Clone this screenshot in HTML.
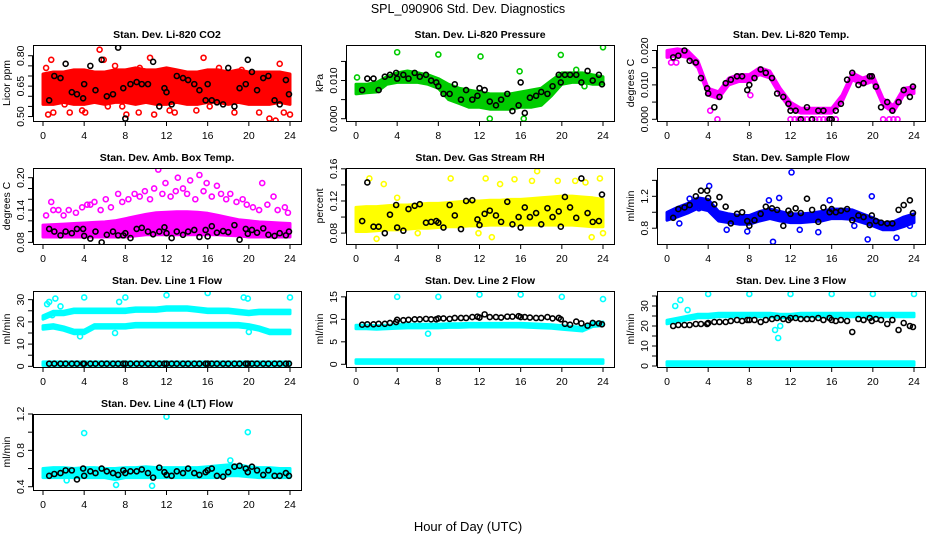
<!DOCTYPE html>
<html><head><meta charset="utf-8">
<style>
html,body{margin:0;padding:0;background:#fff;}
svg{display:block;font-family:"Liberation Sans",Arial,sans-serif;}
</style></head>
<body>
<svg id="chart" width="936" height="540" viewBox="0 0 936 540">
<text x="468" y="13" text-anchor="middle" font-size="12.5">SPL_090906  Std. Dev. Diagnostics</text>
<text x="468" y="531" text-anchor="middle" font-size="13">Hour of Day (UTC)</text>
</svg>
<script>
// ---- shared data ----
const bandHours = [0,1,2,3,4,5,6,7,8,9,10,11,12,13,14,15,16,17,18,19,20,21,22,23,24];
const blackX = [0.6,1.1,1.7,2.2,2.8,3.3,3.9,4.0,4.6,5.1,5.7,6.2,6.8,7.3,7.8,8.0,8.5,9.1,9.6,10.2,10.7,11.3,11.8,12.0,12.5,13.0,13.6,14.1,14.7,15.2,15.8,16.0,16.4,16.9,17.5,18.0,18.6,19.1,19.7,19.9,20.3,20.8,21.4,21.9,22.5,23.0,23.6,23.9];
const xTicks = [0,4,8,12,16,20,24];

// P1 CO2
const co2Lo = [0.56,0.56,0.57,0.56,0.56,0.57,0.56,0.57,0.57,0.56,0.57,0.56,0.56,0.57,0.56,0.56,0.57,0.57,0.56,0.57,0.56,0.56,0.56,0.57,0.56];
const co2Hi = [0.71,0.72,0.72,0.73,0.73,0.72,0.72,0.73,0.73,0.74,0.73,0.73,0.74,0.73,0.72,0.72,0.73,0.73,0.72,0.73,0.72,0.72,0.72,0.72,0.71];
const co2OutX = [0.3,0.5,0.8,1.0,2.1,2.6,3.8,4.1,5.5,5.9,6.3,7.0,7.7,8.1,9.3,9.4,10.4,10.8,12.3,12.8,14.9,15.6,16.2,17.1,18.6,19.3,21.0,22.0,22.6,23.0,23.4,24.0];
const co2OutY = [0.74,0.51,0.78,0.52,0.56,0.52,0.53,0.52,0.83,0.78,0.55,0.75,0.55,0.51,0.52,0.74,0.79,0.51,0.53,0.52,0.53,0.79,0.55,0.74,0.52,0.73,0.52,0.49,0.48,0.76,0.52,0.51];
const co2Black = [0.58,0.70,0.69,0.76,0.62,0.61,0.59,0.66,0.75,0.63,0.78,0.60,0.61,0.84,0.64,0.49,0.66,0.67,0.66,0.66,0.77,0.55,0.64,0.62,0.56,0.70,0.69,0.68,0.66,0.63,0.58,0.66,0.58,0.57,0.56,0.74,0.55,0.64,0.66,0.78,0.72,0.63,0.69,0.70,0.58,0.56,0.68,0.61];

// P2 Pressure
const presLo = [0.0065,0.0068,0.007,0.009,0.0095,0.0095,0.0095,0.009,0.008,0.005,0.004,0.003,0.003,0.0025,0.0025,0.0025,0.003,0.003,0.0035,0.006,0.009,0.0095,0.0095,0.009,0.009];
const presHi = [0.009,0.009,0.0095,0.011,0.012,0.0125,0.012,0.0115,0.0105,0.009,0.008,0.0075,0.007,0.0065,0.0065,0.0065,0.007,0.0075,0.008,0.010,0.012,0.012,0.012,0.0115,0.011];
const presOutX = [0.1,4.0,8.0,12.1,13.0,15.9,16.3,19.9,21.4,22.2,24.0];
const presOutY = [0.0108,0.0174,0.0168,0.0163,0.0000,0.0124,0.0000,0.0167,0.0128,0.0085,0.0187];
const presBlack = [0.0075,0.0105,0.0105,0.0075,0.011,0.0115,0.012,0.0105,0.0115,0.0105,0.012,0.011,0.0115,0.010,0.0095,0.0085,0.0065,0.0065,0.009,0.005,0.0075,0.005,0.006,0.008,0.0075,0.0045,0.0035,0.005,0.0065,0.002,0.0035,0.0095,0.0015,0.0055,0.006,0.007,0.0065,0.0085,0.0115,0.0095,0.0115,0.0115,0.0115,0.0095,0.0125,0.010,0.0115,0.009];

// P3 Temp
const tempLo = [0.018,0.0185,0.018,0.015,0.007,0.006,0.010,0.011,0.011,0.013,0.012,0.007,0.003,0.0018,0.0018,0.0018,0.0018,0.005,0.0115,0.010,0.011,0.004,0.002,0.007,0.0075];
const tempHi = [0.020,0.0205,0.020,0.017,0.009,0.008,0.012,0.013,0.013,0.015,0.014,0.009,0.005,0.0032,0.0032,0.0032,0.0032,0.007,0.0135,0.012,0.013,0.006,0.004,0.009,0.0095];
const tempOutX = [0.4,0.9,4.2,4.9,8.1,12.0,12.4,12.8,13.2,13.6,14.0,14.4,14.8,15.2,15.6,16.0,16.4,21.0,21.6,22.0,22.4];
const tempOutY = [0.0165,0.0165,0.0025,0.0,0.007,0.0,0.0,0.0,0.0,0.0,0.0,0.0,0.0,0.0,0.0,0.0,0.0,0.0,0.0,0.0,0.0];
const tempBlack = [0.018,0.0185,0.020,0.017,0.0165,0.012,0.009,0.0075,0.0035,0.0065,0.0105,0.0115,0.0125,0.0125,0.0085,0.010,0.012,0.0145,0.0135,0.012,0.0075,0.0065,0.0045,0.0025,0.0025,0.000,0.0035,0.000,0.0025,0.0025,0.000,0.000,0.0025,0.0045,0.0115,0.0135,0.010,0.0105,0.0125,0.0125,0.0095,0.0035,0.005,0.0025,0.005,0.0085,0.0065,0.0095];

// P4 Amb box temp
const ambLo = [0.09,0.09,0.09,0.09,0.09,0.09,0.09,0.09,0.09,0.092,0.094,0.094,0.094,0.094,0.094,0.094,0.094,0.094,0.093,0.092,0.09,0.09,0.09,0.09,0.09];
const ambHi = [0.112,0.113,0.114,0.115,0.116,0.117,0.118,0.12,0.124,0.128,0.132,0.135,0.136,0.137,0.137,0.136,0.134,0.13,0.126,0.122,0.12,0.118,0.117,0.116,0.115];
const ambOutX = [0.3,0.8,1.5,2.5,3.2,4.3,5.0,6.1,7.3,8.9,9.9,11.2,11.9,13.1,13.6,14.3,15.2,15.9,16.9,18.2,19.4,21.3,22.4,23.5,1.0,2.0,3.8,4.6,5.6,6.6,7.7,8.3,9.4,10.4,10.8,11.6,12.4,12.9,14.0,14.8,15.6,16.4,17.3,17.8,18.8,19.8,20.4,21.0,21.8,22.8,23.8];
const ambOutY = [0.13,0.155,0.14,0.14,0.135,0.15,0.155,0.16,0.17,0.17,0.175,0.215,0.19,0.2,0.18,0.195,0.205,0.19,0.185,0.17,0.16,0.19,0.165,0.145,0.14,0.13,0.145,0.15,0.14,0.145,0.155,0.16,0.165,0.16,0.18,0.17,0.165,0.175,0.17,0.16,0.175,0.165,0.17,0.16,0.155,0.15,0.145,0.14,0.15,0.14,0.135];
const ambBlack = [0.105,0.10,0.093,0.10,0.097,0.105,0.105,0.092,0.087,0.10,0.08,0.094,0.10,0.093,0.093,0.097,0.088,0.105,0.107,0.10,0.095,0.10,0.108,0.097,0.088,0.10,0.094,0.10,0.103,0.09,0.103,0.091,0.11,0.098,0.101,0.099,0.112,0.085,0.105,0.096,0.103,0.098,0.106,0.094,0.092,0.097,0.093,0.1];

// P5 RH
const rhLo = [0.082,0.082,0.083,0.084,0.084,0.085,0.086,0.086,0.087,0.088,0.088,0.089,0.089,0.09,0.09,0.09,0.09,0.09,0.09,0.09,0.09,0.09,0.089,0.088,0.088];
const rhHi = [0.112,0.113,0.113,0.114,0.115,0.115,0.116,0.117,0.117,0.118,0.119,0.12,0.12,0.121,0.121,0.122,0.122,0.123,0.124,0.125,0.126,0.126,0.125,0.124,0.122];
const rhOutX = [1.3,2.0,2.7,4.0,6.0,9.2,11.9,12.6,13.2,14.0,15.4,17.1,17.6,19.6,21.3,22.3,22.9,23.7,24.0];
const rhOutY = [0.148,0.073,0.141,0.124,0.08,0.148,0.08,0.148,0.075,0.141,0.147,0.145,0.157,0.145,0.145,0.143,0.075,0.148,0.08];
const rhBlack = [0.095,0.143,0.088,0.088,0.08,0.103,0.115,0.087,0.083,0.11,0.114,0.116,0.093,0.094,0.095,0.093,0.087,0.115,0.102,0.085,0.12,0.121,0.097,0.09,0.104,0.108,0.102,0.094,0.119,0.091,0.1,0.087,0.112,0.1,0.105,0.091,0.111,0.1,0.107,0.088,0.125,0.112,0.099,0.148,0.105,0.094,0.095,0.128];

// P6 Sample flow
const sfLo = [0.9,0.94,0.99,1.05,1.02,0.89,0.87,0.85,0.85,0.89,0.92,0.89,0.87,0.87,0.88,0.89,0.92,0.92,0.91,0.87,0.83,0.78,0.78,0.82,0.87];
const sfHi = [1.0,1.06,1.11,1.18,1.16,1.01,0.98,0.96,0.96,1.01,1.04,1.01,0.98,0.98,0.99,1.01,1.04,1.04,1.03,0.98,0.93,0.87,0.88,0.94,0.98];
const sfOutX = [1.2,2.2,3.1,4.1,5.8,7.8,9.9,10.3,10.9,12.1,12.9,14.7,15.8,18.2,19.5,19.9,22.3,23.6];
const sfOutY = [0.86,1.17,1.05,1.33,0.78,0.76,1.15,0.63,1.18,1.5,0.78,0.75,1.15,0.83,0.66,1.2,0.68,0.83];
const sfBlack = [0.93,1.04,1.06,1.09,1.2,1.27,1.27,1.18,1.1,1.19,1.07,0.86,0.98,1.0,0.89,0.83,0.9,0.98,1.07,1.05,1.03,0.83,1.02,0.98,1.05,0.99,1.17,1.03,0.88,1.06,1.0,1.04,1.0,1.02,1.04,0.9,0.96,0.94,0.84,0.96,0.89,0.87,0.86,0.86,1.03,1.09,1.15,0.99];

// P7 Line 1 flow
const l1Upper = [22,24,24,25,25,25,25,25,25,25.5,25.5,25.5,26,26,26,25.5,25,25,25,24.5,24,24.5,24.5,24.5,24.5];
const l1Lower = [17.5,18,17,15.5,15.5,18,18,18,18,18.5,18.5,18.5,18.5,18.5,18.5,18.5,18.5,18.5,18.5,18.5,18,17,15.5,15.5,15.5];
const l1Base = [1.2,1.2,1.2,1.2,1.2,1.2,1.2,1.2,1.2,1.2,1.2,1.2,1.2,1.2,1.2,1.2,1.2,1.2,1.2,1.2,1.2,1.2,1.2,1.2,1.2];
const l1OutX = [0.4,0.6,0.9,1.2,1.7,3.6,4.0,7.0,7.4,8.0,12.0,16.0,19.5,19.9,20.0,24.0];
const l1OutY = [28,29,23,30.5,27,13.5,31,15,29,31,32,33,31,30.5,15.5,31];
const l1Black = [1.2,1.2,1.2,1.2,1.2,1.2,1.2,1.2,1.2,1.2,1.2,1.2,1.2,1.2,1.2,1.2,1.2,1.2,1.2,1.2,1.2,1.2,1.2,1.2,1.2,1.2,1.2,1.2,1.2,1.2,1.2,1.2,1.2,1.2,1.2,1.2,1.2,1.2,1.2,1.2,1.2,1.2,1.2,1.2,1.2,1.2,1.2,1.2];

// P8 Line 2 flow
const l2Band = [8.3,8.3,8.2,8.3,8.4,8.5,8.5,8.5,8.5,8.6,8.6,8.7,8.7,8.7,8.7,8.7,8.7,8.6,8.5,8.4,8.2,8.0,7.8,8.8,9.0];
const l2Base = [0.6,0.6,0.6,0.6,0.6,0.6,0.6,0.6,0.6,0.6,0.6,0.6,0.6,0.6,0.6,0.6,0.6,0.6,0.6,0.6,0.6,0.6,0.6,0.6,0.6];
const l2OutX = [4.0,7.0,8.0,12.0,16.0,20.0,24.0];
const l2OutY = [15,6.8,15,15.5,15.5,15,14.5];
const l2Black = [8.8,8.9,8.9,9.0,9.0,9.2,9.4,9.9,9.8,9.9,10.0,10.0,10.1,10.0,10.0,10.2,10.2,10.1,10.3,10.3,10.3,10.5,10.6,10.4,11.1,10.5,10.5,10.4,10.6,10.6,10.7,10.5,10.5,10.4,10.3,10.3,10.5,10.2,10.3,10.0,9.0,8.8,9.5,9.1,8.6,9.2,9.1,8.9];

// P9 Line 3 flow
const l3Band = [22,23,24,25,25,25.5,25.5,25.5,25.5,25.5,25.5,25,25,25.5,25.5,25.5,25.5,25.5,25.5,25.5,25.5,25.5,25.5,25.5,25.5];
const l3Base = [1.2,1.2,1.2,1.2,1.2,1.2,1.2,1.2,1.2,1.2,1.2,1.2,1.2,1.2,1.2,1.2,1.2,1.2,1.2,1.2,1.2,1.2,1.2,1.2,1.2];
const l3OutX = [0.8,1.3,2.0,4.0,8.0,10.5,10.8,11.0,12.0,16.0,20.0,24.0];
const l3OutY = [30,33,28,36,36,18,14,20,36,36,36,36];
const l3Black = [20,20.5,20.5,20.5,21,21,21,21.5,22,22,22,22.5,23,22.5,23,23,23,22,23,23.5,24,23.5,23,24,24,23.5,23.5,23.5,24,23,24,23,22.5,23,22.5,17,23.5,23,24,22.5,23.5,23,21,23,18,21.5,20,19.5];

// P10 Line 4 flow
const l4Lo = [0.5,0.5,0.5,0.5,0.5,0.5,0.5,0.48,0.5,0.5,0.5,0.5,0.5,0.5,0.5,0.5,0.5,0.5,0.52,0.52,0.51,0.5,0.5,0.5,0.5];
const l4Hi = [0.6,0.61,0.61,0.6,0.61,0.61,0.6,0.6,0.61,0.61,0.62,0.61,0.61,0.61,0.61,0.61,0.62,0.63,0.64,0.64,0.62,0.61,0.61,0.6,0.6];
const l4OutX = [4.0,7.1,10.6,12.0,19.9,18.2,2.3];
const l4OutY = [0.99,0.42,0.41,1.17,1.0,0.69,0.47];
const l4Black = [0.52,0.54,0.55,0.58,0.58,0.48,0.6,0.52,0.57,0.55,0.6,0.57,0.55,0.53,0.58,0.55,0.57,0.57,0.59,0.55,0.5,0.61,0.56,0.53,0.52,0.57,0.55,0.6,0.55,0.53,0.56,0.58,0.6,0.52,0.51,0.56,0.62,0.63,0.6,0.56,0.62,0.58,0.53,0.58,0.52,0.52,0.55,0.52];

// ---- layout ----
const colLeft = [33,346,657];
const boxW = 268;
const rowTop = [45,168,291,414];
const boxH = 76;
const NS = 'http://www.w3.org/2000/svg';
const svg = document.getElementById('chart');

function mk(tag, attrs, parent){
  const e = document.createElementNS(NS, tag);
  for (const k in attrs) e.setAttribute(k, attrs[k]);
  (parent||svg).appendChild(e);
  return e;
}

const panels = [
 {id:'co2',title:'Stan. Dev. Li-820 CO2',ylab:'Licor ppm',c:0,r:0,ymin:0.478,ymax:0.853,ticks:[0.50,0.55,0.60,0.65,0.70,0.75,0.80],labels:[0.50,0.65,0.80],fmt:2,color:'#ff0000',
   bands:[[co2Lo,co2Hi]],outX:co2OutX,outY:co2OutY,black:co2Black},
 {id:'pressure',title:'Stan. Dev. Li-820 Pressure',ylab:'kPa',c:1,r:0,ymin:-0.0006,ymax:0.0193,ticks:[0,0.005,0.010,0.015],labels:[0,0.010],fmt:3,color:'#00cc00',
   bands:[[presLo,presHi]],outX:presOutX,outY:presOutY,black:presBlack},
 {id:'temp',title:'Stan. Dev. Li-820 Temp.',ylab:'degrees C',c:2,r:0,ymin:-0.0005,ymax:0.0216,ticks:[0,0.005,0.010,0.015,0.020],labels:[0,0.010,0.020],fmt:3,color:'#ff00ff',
   bands:[[tempLo,tempHi]],outX:tempOutX,outY:tempOutY,black:tempBlack},
 {id:'amb-temp',title:'Stan. Dev. Amb. Box Temp.',ylab:'degrees C',c:0,r:1,ymin:0.077,ymax:0.218,ticks:[0.08,0.10,0.12,0.14,0.16,0.18,0.20],labels:[0.08,0.14,0.20],fmt:2,color:'#ff00ff',
   bands:[[ambLo,ambHi]],outX:ambOutX,outY:ambOutY,black:ambBlack},
 {id:'rh',title:'Stan. Dev. Gas Stream RH',ylab:'percent',c:1,r:1,ymin:0.0665,ymax:0.161,ticks:[0.08,0.10,0.12,0.14,0.16],labels:[0.08,0.12,0.16],fmt:2,color:'#ffff00',
   bands:[[rhLo,rhHi]],outX:rhOutX,outY:rhOutY,black:rhBlack},
 {id:'sample-flow',title:'Stan. Dev. Sample Flow',ylab:'ml/min',c:2,r:1,ymin:0.602,ymax:1.555,ticks:[0.8,1.0,1.2,1.4],labels:[0.8,1.2],fmt:1,color:'#0000ff',
   bands:[[sfLo,sfHi]],outX:sfOutX,outY:sfOutY,black:sfBlack},
 {id:'line1-flow',title:'Stan. Dev. Line 1 Flow',ylab:'ml/min',c:0,r:2,ymin:-0.3,ymax:33.9,ticks:[0,5,10,15,20,25,30],labels:[0,10,20,30],fmt:0,color:'#00ffff',
   lines:[l1Upper,l1Lower,l1Base],halfw:0.8,outX:l1OutX,outY:l1OutY,black:l1Black},
 {id:'line2-flow',title:'Stan. Dev. Line 2 Flow',ylab:'ml/min',c:1,r:2,ymin:-0.6,ymax:16.3,ticks:[0,5,10,15],labels:[0,5,10,15],fmt:0,color:'#00ffff',
   lines:[l2Band,l2Base],halfw:0.4,outX:l2OutX,outY:l2OutY,black:l2Black},
 {id:'line3-flow',title:'Stan. Dev. Line 3 Flow',ylab:'ml/min',c:2,r:2,ymin:-0.5,ymax:37.5,ticks:[0,5,10,15,20,25,30,35],labels:[0,10,20,30],fmt:0,color:'#00ffff',
   lines:[l3Band,l3Base],halfw:0.9,outX:l3OutX,outY:l3OutY,black:l3Black},
 {id:'line4-flow',title:'Stan. Dev. Line 4 (LT) Flow',ylab:'ml/min',c:0,r:3,ymin:0.364,ymax:1.2,ticks:[0.4,0.6,0.8,1.0,1.2],labels:[0.4,0.8,1.2],fmt:1,color:'#00ffff',
   bands:[[l4Lo,l4Hi]],outX:l4OutX,outY:l4OutY,black:l4Black},
];

panels.forEach(p=>{
  const L = colLeft[p.c], T = rowTop[p.r];
  const xs = h => L + 10 + h/24*(boxW-21);
  const ys = v => T + (p.ymax - v)/(p.ymax - p.ymin)*boxH;
  const g = mk('g',{});
  
  
  const clipId = 'clip-' + p.id;
  const cp = mk('clipPath',{id:clipId},g);
  mk('rect',{x:L,y:T,width:boxW,height:boxH},cp);
  const plot = mk('g',{'clip-path':'url(#'+clipId+')'},g);

  (p.bands||[]).forEach(([lo,hi])=>{
    let d='';
    bandHours.forEach((h,i)=>{ d += (i?'L':'M') + xs(h).toFixed(1) + ',' + ys(hi[i]).toFixed(1); });
    for (let i=bandHours.length-1;i>=0;i--) d += 'L' + xs(bandHours[i]).toFixed(1) + ',' + ys(lo[i]).toFixed(1);
    const b = mk('path',{d:d+'Z',fill:p.color,stroke:p.color,'stroke-width':3,'stroke-linejoin':'round'},plot);
    
    
  });
  (p.lines||[]).forEach(arr=>{
    let d='';
    bandHours.forEach((h,i)=>{ d += (i?'L':'M') + xs(h).toFixed(1) + ',' + ys(arr[i]+p.halfw).toFixed(1); });
    for (let i=bandHours.length-1;i>=0;i--) d += 'L' + xs(bandHours[i]).toFixed(1) + ',' + ys(arr[i]-p.halfw).toFixed(1);
    const b = mk('path',{d:d+'Z',fill:p.color,stroke:p.color,'stroke-width':3,'stroke-linejoin':'round'},plot);
    
    
  });
  p.outX.forEach((h,i)=>{
    const c = mk('circle',{cx:xs(h),cy:ys(p.outY[i]),r:2.5,fill:'none',stroke:p.color,'stroke-width':1.6},plot);
    
    
  });
  const n = Math.min(blackX.length, p.black.length);
  for (let i=0;i<n;i++){
    const c = mk('circle',{cx:xs(blackX[i]),cy:ys(p.black[i]),r:2.5,fill:'none',stroke:'#000','stroke-width':1.6},plot);
    
    
  }

  const box = mk('rect',{x:L+0.5,y:T+0.5,width:boxW,height:boxH,fill:'none',stroke:'#000','stroke-width':1},g);
  
  

  mk('line',{x1:xs(0),x2:xs(24),y1:T+boxH+0.5,y2:T+boxH+0.5,stroke:'#000'},g);
  xTicks.forEach(h=>{
    mk('line',{x1:xs(h),x2:xs(h),y1:T+boxH,y2:T+boxH+5,stroke:'#000'},g);
    const t = mk('text',{x:xs(h),y:T+boxH+18,'text-anchor':'middle','font-size':10.5},g);
    t.textContent = h;
    
    
  });
  mk('line',{x1:L-0.5,x2:L-0.5,y1:ys(p.ticks[0]),y2:ys(p.ticks[p.ticks.length-1]),stroke:'#000'},g);
  p.ticks.forEach(v=>{
    mk('line',{x1:L-5,x2:L,y1:ys(v),y2:ys(v),stroke:'#000'},g);
  });
  p.labels.forEach(v=>{
    const t = mk('text',{x:0,y:0,'text-anchor':'middle','font-size':10.5,transform:'translate('+(L-9)+','+ys(v)+') rotate(-90)'},g);
    t.textContent = v.toFixed(p.fmt);
    
    
  });
  const yl = mk('text',{x:0,y:0,'text-anchor':'middle','font-size':10.5,transform:'translate('+(L-23)+','+(T+boxH/2)+') rotate(-90)'},g);
  yl.textContent = p.ylab;
  
  
  const tt = mk('text',{x:L+boxW/2,y:T-7,'text-anchor':'middle','font-size':10.5,'font-weight':'bold'},g);
  tt.textContent = p.title;
  
  
});
</script>
</body></html>
